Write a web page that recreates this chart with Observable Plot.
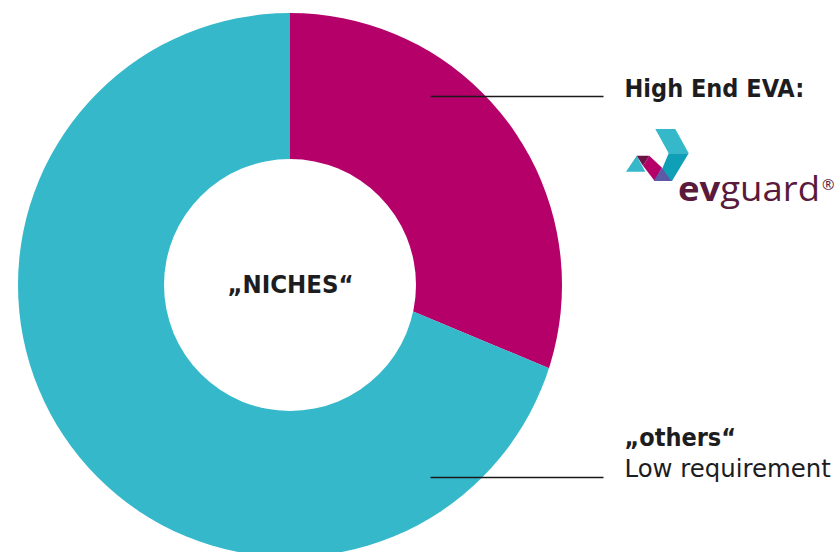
<!DOCTYPE html>
<html>
<head>
<meta charset="utf-8">
<script src="https://cdn.jsdelivr.net/npm/d3@7"></script>
<script src="https://cdn.jsdelivr.net/npm/@observablehq/plot@0.6"></script>
<style>
  html, body { margin: 0; padding: 0; background: #fff; }
  #wrap { position: relative; width: 840px; height: 552px; overflow: hidden; }
  #logo { position: absolute; left: 0; top: 0; }
</style>
</head>
<body>
<div id="wrap"></div>
<script>
// Data
const segments = ["High End EVA", "others"];
const shares = [31.3, 68.7];
const colors = ["#b5006a", "#35b8c9"];
const centerLabel = "„NICHES“";
const labelTitles = ["High End EVA:", "„others“"];
const labelSubs = ["", "Low requirement"];

const table = segments.map((s, i) => ({segment: s, share: shares[i], color: colors[i]}));

const W = 840, H = 552;
const cx = 290, cy = 285, rOuter = 272, rInner = 126;
const apexY = 260; // wedge apex sits slightly above the ring centre in the original artwork
const FONT = "'Liberation Sans Narrow', 'DejaVu Sans Condensed', 'Open Sans', sans-serif";

function donut(index, scales, values, dims) {
  const pie = d3.pie().sort(null).value(d => d.share)(table);
  const wedge = d3.arc().innerRadius(0).outerRadius(700);
  const root = d3.create("svg:g");
  const id = "ringclip";
  root.append("clipPath").attr("id", id)
    .append("circle").attr("cx", scales.x(cx)).attr("cy", scales.y(cy)).attr("r", rOuter);
  const g = root.append("g").attr("clip-path", `url(#${id})`)
    .append("g").attr("transform", `translate(${scales.x(cx)},${scales.y(apexY)})`);
  g.selectAll("path").data(pie).join("path")
    .attr("d", wedge)
    .attr("fill", d => d.data.color);
  root.append("circle").attr("cx", scales.x(cx)).attr("cy", scales.y(cy)).attr("r", rInner).attr("fill", "#fff");
  return root.node();
}

const leaders = [
  {x1: 430, x2: 603, y: 96},
  {x1: 430, x2: 603, y: 477}
];

const plot = Plot.plot({
  width: W, height: H, margin: 0,
  x: {domain: [0, W], range: [0, W], axis: null},
  y: {domain: [0, H], range: [0, H], axis: null},
  marks: [
    donut,
    Plot.link(leaders, {x1: "x1", x2: "x2", y1: "y", y2: "y", stroke: "#1a1a1a", strokeWidth: 1.6}),
    Plot.text([centerLabel], {x: cx, y: 284, text: d => d, fontSize: 25.5, fontWeight: "bold", fill: "#1d1d1f", fontFamily: FONT}),
    Plot.text([labelTitles[0]], {x: 624, y: 88, text: d => d, textAnchor: "start", fontSize: 25, fontWeight: "bold", fill: "#1d1d1f", fontFamily: FONT}),
    Plot.text([labelTitles[1]], {x: 624, y: 437, text: d => d, textAnchor: "start", fontSize: 25, fontWeight: "bold", fill: "#1d1d1f", fontFamily: FONT}),
    Plot.text([labelSubs[1]], {x: 624, y: 469, text: d => d, textAnchor: "start", fontSize: 24.4, fill: "#1d1d1f", fontFamily: "'DejaVu Sans', sans-serif"})
  ]
});
document.getElementById("wrap").appendChild(plot);

// evguard logo (decoration)
const logo = d3.select("#wrap").append("svg").attr("id", "logo").attr("width", W).attr("height", H);
const polys = [
  {pts: [[655.3,129],[675.3,129],[688.7,153.3],[668.7,153.3]], c: "#35b8c9"},
  {pts: [[668.7,153.3],[688.7,153.3],[672,181],[657,181]], c: "#0fa0b8"},
  {pts: [[626,171.7],[636.7,155.7],[645.3,171.7]], c: "#35b8c9"},
  {pts: [[636.7,155.7],[649.3,155.7],[643,165.7]], c: "#6d1244"},
  {pts: [[643,165.7],[649.3,155.7],[662,167.7],[654.7,181]], c: "#b5006a"},
  {pts: [[653.7,181],[662,167.7],[671.3,181]], c: "#5c5aa6"}
];
logo.selectAll("polygon").data(polys).join("polygon")
  .attr("points", d => d.pts.map(p => p.join(",")).join(" "))
  .attr("fill", d => d.c);
const t = logo.append("text").attr("x", 678).attr("y", 201)
  .attr("font-family", "'Open Sans', 'Noto Sans', sans-serif").attr("font-size", 34).attr("fill", "#5a1a3c")
  .attr("textLength", 142).attr("lengthAdjust", "spacingAndGlyphs");
t.append("tspan").attr("font-weight", "bold").text("ev");
t.append("tspan").text("guard");
logo.append("text").attr("x", 822).attr("y", 190)
  .attr("font-family", "'Open Sans', sans-serif").attr("font-size", 15).attr("fill", "#5a1a3c").text("®");
</script>
</body>
</html>
